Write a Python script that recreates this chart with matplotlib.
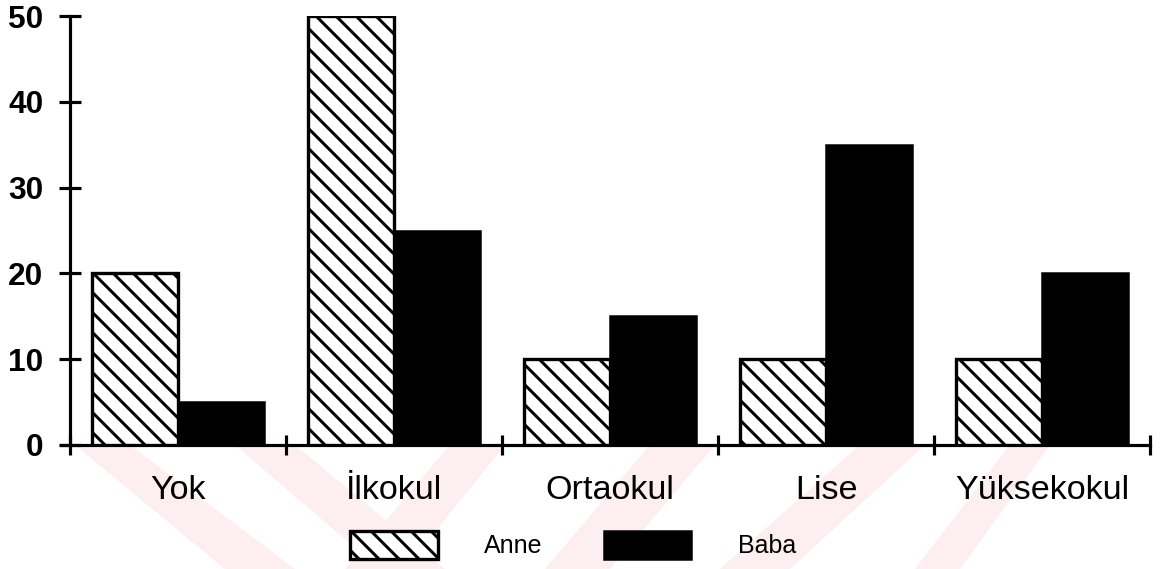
import matplotlib
matplotlib.use("Agg")
import matplotlib.pyplot as plt
from matplotlib.patches import Patch, Polygon
import numpy as np

categories = ["Yok", "İlkokul", "Ortaokul", "Lise", "Yüksekokul"]
anne = [20, 50, 10, 10, 10]
baba = [5, 25, 15, 35, 20]
yticks = [0, 10, 20, 30, 40, 50]

plt.rcParams['font.family'] = ['Liberation Sans', 'DejaVu Sans']
plt.rcParams['hatch.linewidth'] = 1.8

W, H, DPI = 1160, 569, 120
fig = plt.figure(figsize=(W / DPI, H / DPI), dpi=DPI)

# faint watermark stripes (background, below the axes)
def px(x, y):
    return (x / W, 1 - y / H)

stripes = [
    [(75, 445), (130, 445), (295, 569), (225, 569)],
    [(235, 445), (295, 445), (445, 569), (380, 569)],
    [(450, 445), (505, 445), (405, 569), (345, 569)],
    [(650, 445), (715, 445), (610, 569), (545, 569)],
    [(860, 445), (925, 445), (790, 569), (720, 569)],
    [(1010, 445), (1050, 445), (960, 569), (915, 569)],
]
for s in stripes:
    fig.patches.append(Polygon([px(*p) for p in s], closed=True,
                               transform=fig.transFigure, facecolor='#fdeef1',
                               edgecolor='none', zorder=-10))

ax = fig.add_axes([70 / W, 1 - 445 / H, 1080 / W, 429 / H])
ax.set_facecolor('none')
ax.set_zorder(5)

x = np.arange(len(categories))
ax.bar(x + 0.3, anne, width=0.4, color='white', edgecolor='black',
       hatch='\\\\', linewidth=2.0, zorder=3, label='Anne')
ax.bar(x + 0.7, baba, width=0.4, color='black', edgecolor='black',
       linewidth=1.5, zorder=3, label='Baba')

ax.set_xlim(0, len(categories))
ax.set_ylim(0, 50)

for sp in ['top', 'right']:
    ax.spines[sp].set_visible(False)
for sp in ['left', 'bottom']:
    ax.spines[sp].set_linewidth(1.9)
ax.spines['bottom'].set_bounds(-0.04, len(categories))

ax.set_yticks(yticks)
ax.set_yticklabels([str(v) for v in yticks], fontweight='bold')
ax.tick_params(axis='y', direction='inout', length=13, width=1.9, pad=9.5,
               labelsize=19)
ax.set_xticks(np.arange(len(categories) + 1))
ax.set_xticklabels([])
ax.tick_params(axis='x', which='major', direction='inout', length=12, width=1.9)
ax.set_xticks(x + 0.5, minor=True)
ax.set_xticklabels(categories, minor=True)
ax.tick_params(axis='x', which='minor', length=0, pad=18, labelsize=20.5)

handles = [Patch(facecolor='white', edgecolor='black', hatch='\\\\', linewidth=2.0),
           Patch(facecolor='black', edgecolor='black', linewidth=1.5)]
leg = fig.legend(handles, ['Anne', 'Baba'], loc='center', bbox_to_anchor=(0.494, 0.042),
                 ncol=2, frameon=False, fontsize=15, handlelength=3.5,
                 handleheight=1.35, handletextpad=1.85, columnspacing=2.45)
leg.set_zorder(6)

fig.savefig('out.png', dpi=DPI, facecolor='white')
